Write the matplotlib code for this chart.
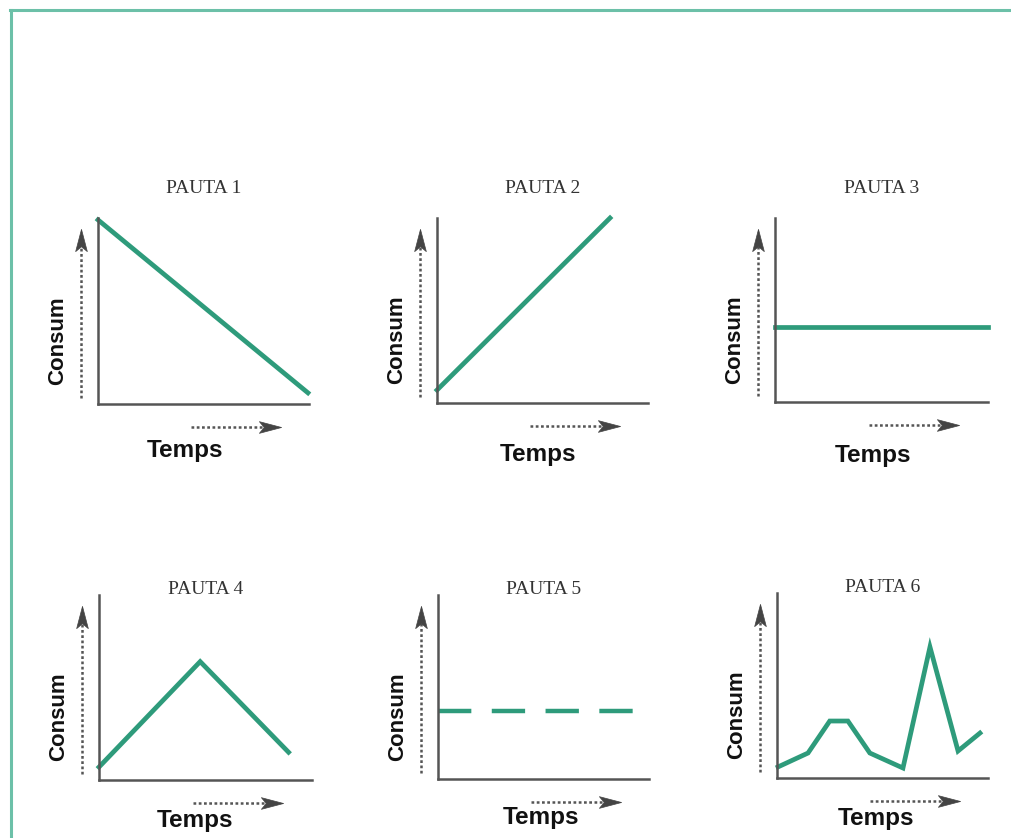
import matplotlib.pyplot as plt
from matplotlib.lines import Line2D
from matplotlib.path import Path
from matplotlib.transforms import offset_copy

W, H = 1011, 838

# dades de cada pauta (temps, consum) en escala 0-10
titols = ['PAUTA 1', 'PAUTA 2', 'PAUTA 3', 'PAUTA 4', 'PAUTA 5', 'PAUTA 6']
p1_x = [0, 9.95]
p1_y = [9.9, 0.6]
p2_x = [0, 8.2]
p2_y = [0.7, 10.0]
p3_x = [0, 10]
p3_y = [4.1, 4.1]
p4_x = [0, 4.75, 8.9]
p4_y = [0.7, 6.4, 1.5]
p5_x = [0, 9.25]
p5_y = [3.7, 3.7]
p6_x = [0.05, 1.47, 2.5, 3.36, 4.4, 5.97, 7.25, 8.58, 9.62]
p6_y = [0.6, 1.35, 3.08, 3.08, 1.35, 0.54, 7.08, 1.46, 2.43]

series = [(p1_x, p1_y), (p2_x, p2_y), (p3_x, p3_y),
          (p4_x, p4_y), (p5_x, p5_y), (p6_x, p6_y)]

# caixes dels eixos en pixels: esquerra, dalt, dreta, baix
caixes = [(98, 218, 309, 404), (437, 218, 648, 403), (775, 218, 988, 402),
          (99, 595, 312, 780), (438, 595, 649, 779), (777, 593, 988, 778)]
# posicio del text "Temps" (fraccio d'eixos)
temps_pos = [(0.41, -0.25), (0.48, -0.28), (0.46, -0.29),
             (0.45, -0.22), (0.49, -0.21), (0.47, -0.22)]
titol_y = [1.16, 1.16, 1.16, 1.03, 1.03, 1.03]

verd = '#2e9b7b'
gris = '#555555'
fosc = '#444444'

# punta de fletxa amb osca (tipus "stealth")
cap_amunt = Path([(0, 0.8), (-0.42, -0.8), (0, -0.45), (0.42, -0.8), (0, 0.8)],
                 [Path.MOVETO, Path.LINETO, Path.LINETO, Path.LINETO, Path.CLOSEPOLY])
cap_dreta = Path([(0.8, 0), (-0.8, 0.42), (-0.45, 0), (-0.8, -0.42), (0.8, 0)],
                 [Path.MOVETO, Path.LINETO, Path.LINETO, Path.LINETO, Path.CLOSEPOLY])

fig = plt.figure(figsize=(W / 100, H / 100), dpi=100)
fig.patch.set_facecolor('white')

# marc verd (superior i esquerre)
fig.add_artist(Line2D([10 / W, 1], [1 - 10 / H, 1 - 10 / H], color='#6cc0a8', lw=2.2))
fig.add_artist(Line2D([11 / W, 11 / W], [0, 1 - 10 / H], color='#6cc0a8', lw=2.2))

for i, (x0, y0, x1, y1) in enumerate(caixes):
    ax = fig.add_axes([x0 / W, 1 - y1 / H, (x1 - x0) / W, (y1 - y0) / H])
    ax.set_xlim(0, 10)
    ax.set_ylim(0, 10)
    ax.set_facecolor('none')
    for s in ['top', 'right']:
        ax.spines[s].set_visible(False)
    for s in ['left', 'bottom']:
        ax.spines[s].set_color(gris)
        ax.spines[s].set_linewidth(1.8)
    ax.set_xticks([])
    ax.set_yticks([])

    xs, ys = series[i]
    if i == 4:
        ax.plot(xs, ys, color=verd, lw=3.2, dashes=(7.5, 4.6), clip_on=False)
    else:
        ax.plot(xs, ys, color=verd, lw=3.4, clip_on=False, solid_joinstyle='miter')

    # fletxa vertical de consum
    ax.plot([-0.08, -0.08], [0.03, 0.89], transform=ax.transAxes, clip_on=False,
            color='#555555', lw=1.8, linestyle=(0, (1.1, 1.0)))
    ax.plot([-0.08], [0.94], transform=offset_copy(ax.transAxes, fig, y=-11, units='dots'),
            marker=cap_amunt, markersize=16, color=fosc, mec=fosc, mew=0.5, clip_on=False)
    # fletxa horitzontal de temps
    ax.plot([0.44, 0.82], [-0.125, -0.125], transform=ax.transAxes, clip_on=False,
            color='#555555', lw=1.8, linestyle=(0, (1.1, 1.0)))
    ax.plot([0.865], [-0.125], transform=offset_copy(ax.transAxes, fig, x=-11, units='dots'),
            marker=cap_dreta, markersize=16, color=fosc, mec=fosc, mew=0.5, clip_on=False)

    ax.text(-0.19, 0.34, 'Consum', transform=ax.transAxes, rotation=90,
            ha='center', va='center', fontsize=16, fontweight='bold',
            family='Liberation Sans', color='#111111')
    tx, ty = temps_pos[i]
    ax.text(tx, ty, 'Temps', transform=ax.transAxes, ha='center', va='center',
            fontsize=17.5, fontweight='bold', family='Liberation Sans', color='#111111')
    ax.text(0.5, titol_y[i], titols[i], transform=ax.transAxes, ha='center', va='center',
            fontsize=14, family='Liberation Serif', color='#333333')

fig.savefig('out.png', dpi=100)
